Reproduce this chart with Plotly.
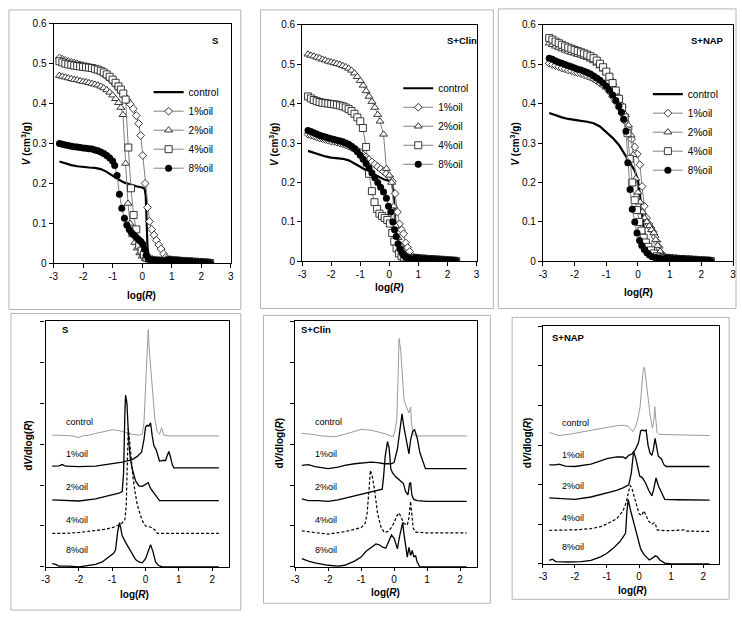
import plotly.graph_objects as go

W, H = 742, 623
FONT = "Liberation Sans, Arial, sans-serif"

# ---------------- data: cumulative intrusion volume V (cm3/g) vs log(R) ----------------
TAIL_X = [0.9, 1.0, 1.1, 1.2, 1.3, 1.4, 1.5, 1.6, 1.7, 1.8, 1.9, 2.0, 2.1, 2.2, 2.3]
TAIL_V = [0.009, 0.008, 0.007, 0.007, 0.006, 0.006, 0.005, 0.005, 0.004, 0.004, 0.003, 0.003, 0.002, 0.002, 0.001]

# panel S
S_ctrl = [(-2.8, .255), (-2.6, .25), (-2.4, .246), (-2.2, .243), (-2.0, .241), (-1.8, .24), (-1.6, .239),
          (-1.4, .236), (-1.2, .229), (-1.0, .219), (-0.8, .21), (-0.6, .202), (-0.4, .197), (-0.2, .193),
          (0.0, .19), (0.08, .187), (0.12, .17), (0.15, .1), (0.18, .04), (0.22, .018), (0.3, .012),
          (0.5, .009), (0.8, .007), (1.2, .005), (1.6, .004), (2.0, .003), (2.3, .002)]
S_1 = [(-2.8, .514), (-2.7, .511), (-2.6, .508), (-2.5, .505), (-2.4, .503), (-2.3, .501), (-2.2, .499),
       (-2.1, .497), (-2.0, .495), (-1.9, .493), (-1.8, .491), (-1.7, .489), (-1.6, .486), (-1.5, .483),
       (-1.4, .479), (-1.3, .474), (-1.2, .468), (-1.1, .462), (-1.0, .455), (-0.9, .447), (-0.8, .438),
       (-0.7, .428), (-0.6, .418), (-0.5, .408), (-0.4, .398), (-0.3, .387), (-0.2, .37), (-0.12, .35),
       (-0.05, .32), (0.02, .27), (0.1, .2), (0.18, .14), (0.25, .105), (0.32, .085), (0.4, .071),
       (0.48, .058), (0.56, .046), (0.64, .036), (0.72, .024), (0.8, .015)]
S_2 = [(-2.8, .47), (-2.7, .468), (-2.6, .466), (-2.5, .464), (-2.4, .462), (-2.3, .46), (-2.2, .459),
       (-2.1, .457), (-2.0, .455), (-1.9, .454), (-1.8, .452), (-1.7, .45), (-1.6, .448), (-1.5, .446),
       (-1.4, .443), (-1.3, .439), (-1.2, .434), (-1.1, .428), (-1.0, .421), (-0.9, .412), (-0.8, .402),
       (-0.72, .39), (-0.65, .372), (-0.56, .25), (-0.48, .15), (-0.41, .1), (-0.33, .072), (-0.25, .052),
       (-0.17, .038), (-0.08, .026), (0.0, .018), (0.1, .012), (0.2, .009), (0.3, .008), (0.4, .007),
       (0.5, .007), (0.6, .006), (0.7, .006), (0.8, .006)]
S_4 = [(-2.8, .506), (-2.7, .503), (-2.6, .5), (-2.5, .498), (-2.4, .497), (-2.3, .495), (-2.2, .494),
       (-2.1, .493), (-2.0, .492), (-1.9, .491), (-1.8, .49), (-1.7, .489), (-1.6, .487), (-1.5, .485),
       (-1.4, .482), (-1.3, .478), (-1.2, .473), (-1.1, .467), (-1.0, .46), (-0.9, .452), (-0.8, .443),
       (-0.72, .435), (-0.64, .425), (-0.56, .41), (-0.47, .29), (-0.38, .188), (-0.29, .121), (-0.2, .085),
       (-0.1, .045), (-0.02, .032), (0.06, .022), (0.15, .014), (0.25, .01), (0.35, .008), (0.45, .007),
       (0.55, .007), (0.65, .006), (0.75, .006), (0.85, .006)]
S_8 = [(-2.8, .3), (-2.7, .298), (-2.6, .296), (-2.5, .295), (-2.4, .293), (-2.3, .292), (-2.2, .291),
       (-2.1, .29), (-2.0, .289), (-1.9, .288), (-1.8, .287), (-1.7, .286), (-1.6, .284), (-1.5, .282),
       (-1.4, .279), (-1.3, .275), (-1.2, .27), (-1.1, .264), (-1.0, .256), (-0.93, .245), (-0.85, .22),
       (-0.77, .173), (-0.69, .138), (-0.6, .113), (-0.52, .096), (-0.44, .085), (-0.37, .078), (-0.3, .072),
       (-0.23, .067), (-0.16, .062), (-0.1, .058), (-0.04, .054), (0.02, .048), (0.08, .035), (0.14, .02),
       (0.2, .012), (0.28, .009), (0.36, .008), (0.45, .007), (0.55, .007), (0.65, .006), (0.75, .006),
       (0.85, .006)]

# panel S+Clin
C_ctrl = [(-2.8, .28), (-2.6, .275), (-2.4, .27), (-2.2, .266), (-2.0, .263), (-1.8, .262), (-1.6, .26),
          (-1.4, .256), (-1.2, .249), (-1.0, .24), (-0.8, .231), (-0.6, .223), (-0.4, .215), (-0.2, .208),
          (0.0, .204), (0.1, .201), (0.15, .17), (0.2, .1), (0.25, .04), (0.3, .016), (0.4, .01), (0.6, .007),
          (1.0, .005), (1.5, .004), (2.0, .003), (2.3, .002)]
C_1 = [(-2.8, .322), (-2.7, .32), (-2.6, .318), (-2.5, .315), (-2.4, .313), (-2.3, .311), (-2.2, .309),
       (-2.1, .307), (-2.0, .305), (-1.9, .304), (-1.8, .302), (-1.7, .3), (-1.6, .298), (-1.5, .295),
       (-1.4, .292), (-1.3, .289), (-1.2, .285), (-1.1, .281), (-1.0, .276), (-0.9, .27), (-0.8, .265),
       (-0.7, .258), (-0.6, .252), (-0.5, .246), (-0.4, .24), (-0.3, .234), (-0.2, .228), (-0.1, .222),
       (0.0, .215), (0.1, .203), (0.2, .172), (0.28, .125), (0.35, .095), (0.42, .08), (0.49, .07),
       (0.56, .047), (0.63, .035), (0.7, .025), (0.8, .013)]
C_2 = [(-2.8, .525), (-2.7, .522), (-2.6, .52), (-2.5, .517), (-2.4, .515), (-2.3, .512), (-2.2, .51),
       (-2.1, .507), (-2.0, .505), (-1.9, .503), (-1.8, .501), (-1.7, .499), (-1.6, .496), (-1.5, .493),
       (-1.4, .489), (-1.3, .484), (-1.2, .477), (-1.1, .468), (-1.0, .458), (-0.9, .446), (-0.8, .432),
       (-0.7, .418), (-0.6, .405), (-0.5, .39), (-0.4, .372), (-0.32, .355), (-0.2, .322), (-0.1, .235),
       (0.0, .218), (0.08, .2), (0.15, .14), (0.22, .09), (0.3, .06), (0.38, .04), (0.47, .025),
       (0.56, .016), (0.65, .011), (0.75, .009), (0.85, .008)]
C_4 = [(-2.8, .418), (-2.7, .413), (-2.6, .409), (-2.5, .406), (-2.4, .404), (-2.3, .402), (-2.2, .401),
       (-2.1, .4), (-2.0, .399), (-1.9, .398), (-1.8, .397), (-1.7, .395), (-1.6, .393), (-1.5, .39),
       (-1.4, .386), (-1.3, .381), (-1.2, .374), (-1.1, .365), (-1.0, .355), (-0.91, .338), (-0.8, .29),
       (-0.7, .222), (-0.6, .178), (-0.51, .15), (-0.42, .133), (-0.34, .121), (-0.25, .115), (-0.16, .11),
       (-0.07, .105), (0.02, .096), (0.1, .072), (0.17, .05), (0.25, .033), (0.33, .02), (0.42, .013),
       (0.5, .01), (0.6, .009), (0.7, .008), (0.8, .008)]
C_8 = [(-2.8, .332), (-2.7, .329), (-2.6, .326), (-2.5, .323), (-2.4, .32), (-2.3, .317), (-2.2, .315),
       (-2.1, .313), (-2.0, .311), (-1.9, .309), (-1.8, .307), (-1.7, .305), (-1.6, .303), (-1.5, .3),
       (-1.4, .297), (-1.3, .292), (-1.2, .286), (-1.1, .278), (-1.0, .269), (-0.9, .259), (-0.8, .248),
       (-0.7, .236), (-0.6, .224), (-0.5, .212), (-0.4, .2), (-0.3, .188), (-0.2, .176), (-0.1, .16),
       (-0.03, .14), (0.05, .125), (0.12, .1), (0.18, .08), (0.24, .063), (0.3, .045), (0.36, .032),
       (0.43, .022), (0.5, .015), (0.58, .01), (0.66, .008), (0.75, .007), (0.85, .006)]

# panel S+NAP
N_ctrl = [(-2.8, .376), (-2.6, .37), (-2.4, .365), (-2.2, .361), (-2.0, .358), (-1.8, .356), (-1.6, .354),
          (-1.4, .35), (-1.2, .342), (-1.0, .328), (-0.8, .313), (-0.6, .295), (-0.4, .27), (-0.3, .258),
          (-0.2, .245), (-0.1, .23), (0.0, .205), (0.05, .18), (0.1, .145), (0.15, .105), (0.2, .072),
          (0.27, .045), (0.35, .027), (0.45, .016), (0.6, .01), (0.8, .007), (1.0, .006), (1.5, .004),
          (2.0, .003), (2.3, .002)]
N_1 = [(-2.8, .502), (-2.7, .499), (-2.6, .496), (-2.5, .493), (-2.4, .49), (-2.3, .488), (-2.2, .485),
       (-2.1, .483), (-2.0, .48), (-1.9, .478), (-1.8, .476), (-1.7, .473), (-1.6, .47), (-1.5, .467),
       (-1.4, .463), (-1.3, .458), (-1.2, .452), (-1.1, .446), (-1.0, .44), (-0.9, .43), (-0.8, .418),
       (-0.7, .405), (-0.6, .39), (-0.5, .375), (-0.4, .355), (-0.3, .335), (-0.2, .31), (-0.1, .29),
       (-0.02, .272), (0.06, .245), (0.13, .19), (0.2, .14), (0.27, .11), (0.34, .095), (0.41, .085),
       (0.48, .075), (0.54, .062), (0.6, .05), (0.67, .035), (0.74, .02), (0.82, .013)]
N_2 = [(-2.8, .553), (-2.7, .549), (-2.6, .545), (-2.5, .542), (-2.4, .538), (-2.3, .535), (-2.2, .532),
       (-2.1, .529), (-2.0, .527), (-1.9, .524), (-1.8, .522), (-1.7, .519), (-1.6, .516), (-1.5, .512),
       (-1.4, .508), (-1.3, .502), (-1.2, .495), (-1.1, .487), (-1.0, .478), (-0.9, .467), (-0.8, .453),
       (-0.7, .436), (-0.6, .417), (-0.5, .396), (-0.4, .372), (-0.3, .345), (-0.22, .32), (-0.15, .27),
       (-0.07, .21), (0.0, .175), (0.07, .15), (0.14, .125), (0.21, .11), (0.28, .1), (0.36, .09),
       (0.43, .08), (0.5, .072), (0.56, .055), (0.62, .04), (0.7, .025), (0.78, .014), (0.86, .01)]
N_4 = [(-2.8, .566), (-2.7, .562), (-2.6, .557), (-2.5, .553), (-2.4, .549), (-2.3, .545), (-2.2, .542),
       (-2.1, .539), (-2.0, .536), (-1.9, .533), (-1.8, .53), (-1.7, .527), (-1.6, .524), (-1.5, .52),
       (-1.4, .515), (-1.3, .509), (-1.2, .501), (-1.1, .492), (-1.0, .481), (-0.9, .468), (-0.8, .452),
       (-0.7, .433), (-0.6, .412), (-0.5, .39), (-0.42, .365), (-0.33, .325), (-0.26, .26), (-0.18, .2),
       (-0.1, .155), (-0.03, .13), (0.04, .1), (0.11, .078), (0.18, .06), (0.25, .048), (0.33, .037),
       (0.41, .028), (0.5, .02), (0.6, .013), (0.7, .01), (0.8, .008)]
N_8 = [(-2.8, .515), (-2.7, .512), (-2.6, .508), (-2.5, .505), (-2.4, .502), (-2.3, .499), (-2.2, .496),
       (-2.1, .493), (-2.0, .49), (-1.9, .487), (-1.8, .485), (-1.7, .482), (-1.6, .479), (-1.5, .475),
       (-1.4, .47), (-1.3, .465), (-1.2, .459), (-1.1, .452), (-1.0, .444), (-0.9, .434), (-0.8, .422),
       (-0.7, .408), (-0.6, .393), (-0.52, .378), (-0.45, .36), (-0.38, .33), (-0.32, .25), (-0.25, .182),
       (-0.18, .132), (-0.1, .1), (-0.03, .072), (0.05, .053), (0.12, .04), (0.2, .03), (0.28, .022),
       (0.36, .016), (0.45, .012), (0.55, .01), (0.65, .008), (0.75, .007), (0.85, .006)]

# ---------------- data: stacked dV/dlog(R) curves (offset units) ----------------
BS_ctrl = [(-2.8, 3.22), (-2.6, 3.22), (-2.4, 3.21), (-2.2, 3.2), (-2.0, 3.16), (-1.9, 3.2), (-1.7, 3.22),
           (-1.5, 3.26), (-1.2, 3.32), (-1.0, 3.35), (-0.8, 3.33), (-0.6, 3.28), (-0.4, 3.24), (-0.2, 3.22),
           (-0.1, 3.24), (-0.05, 3.5), (0.0, 4.4), (0.05, 5.4), (0.08, 5.8), (0.12, 5.2), (0.2, 4.3),
           (0.28, 3.6), (0.35, 3.3), (0.42, 3.24), (0.48, 3.4), (0.55, 3.22), (0.7, 3.2), (1.0, 3.2),
           (1.5, 3.2), (2.2, 3.2)]
BS_1 = [(-2.8, 2.46), (-2.6, 2.47), (-2.5, 2.5), (-2.4, 2.46), (-2.0, 2.45), (-1.5, 2.46), (-1.2, 2.5),
        (-1.0, 2.52), (-0.7, 2.56), (-0.4, 2.62), (-0.25, 2.7), (-0.12, 2.8), (-0.05, 3.1), (0.0, 3.42),
        (0.05, 3.46), (0.1, 3.44), (0.15, 3.52), (0.2, 3.2), (0.25, 2.96), (0.32, 2.86), (0.38, 2.7),
        (0.42, 2.58), (0.5, 2.6), (0.6, 2.6), (0.65, 2.72), (0.7, 2.82), (0.75, 2.68), (0.8, 2.5),
        (0.85, 2.42), (1.0, 2.42), (1.5, 2.42), (2.2, 2.42)]
BS_2 = [(-2.8, 1.64), (-2.4, 1.62), (-2.0, 1.61), (-1.5, 1.66), (-1.2, 1.72), (-1.0, 1.76), (-0.8, 1.8),
        (-0.7, 1.84), (-0.66, 2.3), (-0.62, 3.8), (-0.6, 4.2), (-0.56, 4.0), (-0.5, 3.0), (-0.45, 2.6),
        (-0.4, 2.4), (-0.3, 2.1), (-0.2, 1.98), (-0.1, 1.97), (0.0, 2.02), (0.08, 2.06), (0.15, 1.92),
        (0.25, 1.8), (0.35, 1.68), (0.42, 1.62), (0.6, 1.62), (1.0, 1.62), (2.2, 1.62)]
BS_4 = [(-2.8, 0.82), (-2.4, 0.82), (-2.0, 0.84), (-1.5, 0.88), (-1.2, 0.92), (-1.0, 0.96), (-0.8, 1.02),
        (-0.7, 1.08), (-0.62, 1.15), (-0.58, 1.5), (-0.55, 2.6), (-0.52, 3.38), (-0.48, 3.1), (-0.44, 2.7),
        (-0.38, 2.2), (-0.32, 1.85), (-0.25, 1.52), (-0.15, 1.25), (-0.08, 1.1), (0.0, 1.0), (0.1, 0.98),
        (0.2, 0.96), (0.28, 0.9), (0.35, 0.82), (0.6, 0.82), (1.0, 0.82), (2.2, 0.82)]
BS_8 = [(-2.8, 0.08), (-2.7, 0.06), (-2.6, 0.02), (-2.3, 0.02), (-2.0, 0.0), (-1.8, 0.02), (-1.5, 0.06),
        (-1.3, 0.12), (-1.1, 0.24), (-0.95, 0.34), (-0.9, 0.42), (-0.84, 0.85), (-0.78, 1.08), (-0.74, 0.9),
        (-0.7, 0.76), (-0.6, 0.6), (-0.5, 0.46), (-0.4, 0.3), (-0.3, 0.18), (-0.2, 0.12), (-0.1, 0.1),
        (0.0, 0.2), (0.08, 0.4), (0.15, 0.54), (0.22, 0.38), (0.3, 0.12), (0.38, 0.04), (0.5, 0.0),
        (1.0, 0.0), (2.2, 0.0)]

BC_ctrl = [(-2.8, 3.26), (-2.5, 3.24), (-2.2, 3.2), (-1.8, 3.18), (-1.5, 3.24), (-1.2, 3.32), (-1.0, 3.36),
           (-0.7, 3.34), (-0.5, 3.3), (-0.3, 3.26), (-0.1, 3.2), (-0.03, 3.18), (0.02, 3.3), (0.08, 3.6),
           (0.12, 4.6), (0.15, 5.58), (0.2, 5.3), (0.25, 4.6), (0.3, 4.08), (0.35, 3.96), (0.4, 3.86),
           (0.45, 3.76), (0.5, 3.9), (0.53, 3.5), (0.58, 3.24), (0.65, 3.2), (1.0, 3.2), (1.5, 3.2), (2.2, 3.2)]
BC_1 = [(-2.8, 2.48), (-2.6, 2.5), (-2.4, 2.45), (-2.0, 2.4), (-1.7, 2.44), (-1.5, 2.48), (-1.2, 2.52),
        (-1.0, 2.54), (-0.7, 2.56), (-0.5, 2.55), (-0.3, 2.52), (-0.1, 2.52), (0.0, 2.55), (0.1, 2.88),
        (0.18, 3.4), (0.24, 3.74), (0.3, 3.4), (0.38, 3.0), (0.45, 2.76), (0.5, 3.1), (0.56, 3.3),
        (0.62, 3.36), (0.7, 3.15), (0.78, 2.8), (0.86, 2.62), (0.95, 2.4), (1.2, 2.4), (1.6, 2.4), (2.2, 2.4)]
BC_2 = [(-2.8, 1.66), (-2.6, 1.62), (-2.3, 1.62), (-2.0, 1.6), (-1.7, 1.64), (-1.5, 1.68), (-1.2, 1.73),
        (-1.0, 1.78), (-0.7, 1.83), (-0.5, 1.88), (-0.36, 1.9), (-0.32, 2.2), (-0.27, 2.7), (-0.2, 3.06),
        (-0.15, 2.9), (-0.1, 2.4), (-0.05, 2.3), (0.05, 2.2), (0.15, 2.12), (0.22, 2.08), (0.28, 2.04),
        (0.35, 1.84), (0.42, 1.76), (0.47, 2.04), (0.5, 2.06), (0.54, 1.75), (0.6, 1.65), (0.7, 1.62),
        (1.0, 1.6), (1.5, 1.6), (2.2, 1.6)]
BC_4 = [(-2.8, 0.88), (-2.6, 0.86), (-2.4, 0.84), (-2.0, 0.8), (-1.5, 0.86), (-1.2, 0.92), (-1.0, 0.96),
        (-0.88, 1.06), (-0.82, 1.3), (-0.76, 1.9), (-0.72, 2.36), (-0.66, 2.2), (-0.6, 1.92), (-0.5, 1.3),
        (-0.4, 0.98), (-0.3, 0.84), (-0.2, 0.86), (-0.1, 0.94), (0.0, 1.08), (0.08, 1.24), (0.15, 1.32),
        (0.22, 1.2), (0.3, 1.06), (0.4, 1.02), (0.45, 1.2), (0.5, 1.6), (0.53, 1.3), (0.58, 0.95),
        (0.65, 0.85), (0.75, 0.84), (1.0, 0.83), (1.5, 0.83), (2.2, 0.83)]
BC_8 = [(-2.8, 0.2), (-2.6, 0.14), (-2.4, 0.1), (-2.0, 0.04), (-1.7, 0.02), (-1.5, 0.04), (-1.2, 0.14),
        (-1.0, 0.24), (-0.85, 0.38), (-0.75, 0.44), (-0.65, 0.48), (-0.55, 0.56), (-0.45, 0.54),
        (-0.35, 0.48), (-0.25, 0.46), (-0.15, 0.66), (-0.08, 0.78), (0.0, 0.7), (0.06, 0.52), (0.1, 0.44),
        (0.16, 0.72), (0.22, 0.98), (0.26, 1.08), (0.3, 0.8), (0.35, 0.45), (0.4, 0.24), (0.45, 0.48),
        (0.5, 0.28), (0.55, 0.4), (0.6, 0.24), (0.65, 0.28), (0.7, 0.12), (0.78, 0.0), (1.0, 0.0),
        (1.5, 0.0), (2.2, 0.0)]

BN_ctrl = [(-2.8, 3.32), (-2.6, 3.26), (-2.5, 3.24), (-2.2, 3.27), (-2.0, 3.3), (-1.5, 3.36), (-1.0, 3.45),
           (-0.7, 3.49), (-0.5, 3.5), (-0.35, 3.48), (-0.25, 3.4), (-0.2, 3.34), (-0.12, 3.44), (-0.05, 3.62),
           (0.03, 3.95), (0.08, 4.4), (0.13, 4.9), (0.17, 4.97), (0.22, 4.6), (0.28, 4.15), (0.35, 3.73),
           (0.42, 3.42), (0.46, 3.6), (0.49, 3.97), (0.52, 3.6), (0.56, 3.32), (0.62, 3.27), (1.0, 3.26),
           (1.5, 3.25), (2.2, 3.24)]
BN_1 = [(-2.8, 2.5), (-2.6, 2.5), (-2.5, 2.52), (-2.3, 2.47), (-2.0, 2.46), (-1.5, 2.52), (-1.2, 2.6),
        (-1.0, 2.66), (-0.7, 2.7), (-0.5, 2.7), (-0.42, 2.66), (-0.32, 2.74), (-0.22, 2.78), (-0.12, 2.88),
        (-0.02, 3.05), (0.05, 3.36), (0.1, 3.38), (0.16, 3.36), (0.22, 3.38), (0.28, 3.0), (0.34, 2.8),
        (0.4, 2.74), (0.45, 2.9), (0.5, 3.17), (0.55, 2.95), (0.6, 2.72), (0.7, 2.65), (0.78, 2.5),
        (0.85, 2.46), (1.2, 2.46), (1.6, 2.46), (2.2, 2.46)]
BN_2 = [(-2.8, 1.67), (-2.6, 1.66), (-2.4, 1.64), (-2.0, 1.63), (-1.5, 1.69), (-1.2, 1.75), (-1.0, 1.8),
        (-0.7, 1.86), (-0.5, 1.92), (-0.32, 2.0), (-0.24, 2.3), (-0.17, 2.84), (-0.1, 2.66), (-0.04, 2.4),
        (0.02, 2.22), (0.1, 2.18), (0.2, 2.05), (0.3, 1.86), (0.4, 1.72), (0.45, 1.86), (0.53, 2.17),
        (0.6, 1.98), (0.7, 1.78), (0.8, 1.63), (1.2, 1.62), (1.6, 1.61), (2.2, 1.61)]
BN_4 = [(-2.8, 0.85), (-2.5, 0.85), (-2.0, 0.86), (-1.5, 0.89), (-1.2, 0.94), (-1.0, 1.01), (-0.7, 1.14),
        (-0.5, 1.34), (-0.4, 1.55), (-0.32, 1.85), (-0.27, 1.98), (-0.22, 1.9), (-0.15, 1.68), (-0.08, 1.45),
        (0.0, 1.27), (0.08, 1.22), (0.15, 1.34), (0.22, 1.22), (0.3, 1.08), (0.4, 1.0), (0.47, 1.04),
        (0.52, 0.98), (0.56, 0.86), (0.8, 0.84), (1.0, 0.84), (1.4, 0.86), (1.5, 0.83), (2.2, 0.82)]
BN_8 = [(-2.8, 0.09), (-2.7, 0.12), (-2.6, 0.06), (-2.2, 0.05), (-1.8, 0.06), (-1.5, 0.09), (-1.2, 0.18),
        (-1.0, 0.27), (-0.8, 0.4), (-0.6, 0.56), (-0.48, 0.7), (-0.42, 0.78), (-0.38, 1.3), (-0.34, 1.63),
        (-0.28, 1.4), (-0.2, 1.15), (-0.12, 0.88), (-0.05, 0.62), (0.05, 0.38), (0.15, 0.24), (0.25, 0.14),
        (0.32, 0.1), (0.4, 0.14), (0.5, 0.2), (0.56, 0.19), (0.65, 0.1), (0.8, 0.02), (1.0, 0.0),
        (1.5, 0.0), (2.2, 0.0)]

SERIES = ["control", "1%oil", "2%oil", "4%oil", "8%oil"]
PANELS = ["S", "S+Clin", "S+NAP"]
X_TICKS_TOP = [-3, -2, -1, 0, 1, 2, 3]
X_TICKS_BOT = [-3, -2, -1, 0, 1, 2]
TICK_TEXT_TOP = ["-3", "-2", "-1", "0", "1", "2", "3"]
TICK_TEXT_BOT = ["-3", "-2", "-1", "0", "1", "2"]

TOP = [(S_ctrl, S_1, S_2, S_4, S_8), (C_ctrl, C_1, C_2, C_4, C_8), (N_ctrl, N_1, N_2, N_4, N_8)]
BOT = [(BS_ctrl, BS_1, BS_2, BS_4, BS_8), (BC_ctrl, BC_1, BC_2, BC_4, BC_8), (BN_ctrl, BN_1, BN_2, BN_4, BN_8)]

# ---------------- layout geometry (pixels) ----------------
TOP_BOX = [(50, 229, 19, 263), (301, 477, 20, 261), (544, 736, 20, 261)]
BOT_BOX = [(42, 227, 322, 572), (294, 477, 322, 572), (544, 722, 327, 569)]
FRAMES = [(5, 5, 239, 310), (259, 5, 494, 309), (499, 4, 739, 309),
          (7, 314, 239, 616), (262, 316, 491, 609), (513, 318, 732, 605)]
LEG_POS = [(146, 74), (398, 70), (650, 76)]


def px_x(a, b):
    return [a / W, b / W]


def px_y(t, b):
    return [1 - b / H, 1 - t / H]


def unz(pairs, tail=False):
    xs = [p[0] for p in pairs]
    ys = [p[1] for p in pairs]
    if tail:
        xs = xs + TAIL_X
        ys = ys + TAIL_V
    return xs, ys


fig = go.Figure()
MARK = [None,
        dict(symbol="diamond", size=6, color="white", line=dict(color="#222", width=0.9)),
        dict(symbol="triangle-up", size=7, color="white", line=dict(color="#222", width=0.9)),
        dict(symbol="square", size=7, color="white", line=dict(color="#222", width=0.9)),
        dict(symbol="circle", size=7, color="black", line=dict(color="black", width=0))]

for p in range(3):
    xa = "x" if p == 0 else f"x{p + 1}"
    ya = "y" if p == 0 else f"y{p + 1}"
    leg = "legend" if p == 0 else f"legend{p + 1}"
    for s in range(5):
        if s == 0:
            xs, ys = unz(TOP[p][s])
            fig.add_trace(go.Scatter(x=xs, y=ys, mode="lines", name=SERIES[s], xaxis=xa, yaxis=ya,
                                     legend=leg, line=dict(color="black", width=2.2)))
        else:
            xs, ys = unz(TOP[p][s], tail=True)
            fig.add_trace(go.Scatter(x=xs, y=ys, mode="lines+markers", name=SERIES[s], xaxis=xa, yaxis=ya,
                                     legend=leg, line=dict(color="#808080", width=1), marker=MARK[s]))

for p in range(3):
    xa = f"x{p + 4}"
    ya = f"y{p + 4}"
    for s in range(5):
        xs, ys = unz(BOT[p][s])
        if s == 0:
            ln = dict(color="#9a9a9a", width=1)
        elif s == 3:
            ln = dict(color="black", width=1.2, dash="3px,2px")
        else:
            ln = dict(color="black", width=1.3)
        fig.add_trace(go.Scatter(x=xs, y=ys, mode="lines", name=SERIES[s], xaxis=xa, yaxis=ya,
                                 showlegend=False, line=ln))

tickfont = dict(family=FONT, size=10, color="black")
layout = dict(width=W, height=H, margin=dict(l=0, r=0, t=0, b=0), paper_bgcolor="white",
              plot_bgcolor="white", font=dict(family=FONT, color="black"), showlegend=True)

for p in range(3):
    x0, x1, y0, y1 = TOP_BOX[p]
    xk = "xaxis" if p == 0 else f"xaxis{p + 1}"
    yk = "yaxis" if p == 0 else f"yaxis{p + 1}"
    anchor_x = "y" if p == 0 else f"y{p + 1}"
    anchor_y = "x" if p == 0 else f"x{p + 1}"
    layout[xk] = dict(domain=px_x(x0, x1), anchor=anchor_x, range=[-3, 3], tickvals=X_TICKS_TOP,
                      ticktext=TICK_TEXT_TOP, ticks="outside", ticklen=4, tickcolor="black",
                      showline=True, linecolor="black", linewidth=1, mirror=True, showgrid=False,
                      zeroline=False, tickfont=tickfont)
    layout[yk] = dict(domain=px_y(y0, y1), anchor=anchor_y, range=[0, 0.6], dtick=0.1, tick0=0,
                      ticks="outside", ticklen=4, tickcolor="black", showline=True, linecolor="black",
                      linewidth=1, mirror=True, showgrid=False, zeroline=False, tickfont=tickfont)
    lk = "legend" if p == 0 else f"legend{p + 1}"
    lx, ly = LEG_POS[p]
    layout[lk] = dict(x=lx / W, y=1 - ly / H, xanchor="left", yanchor="top", bgcolor="rgba(0,0,0,0)",
                      font=dict(family=FONT, size=10, color="black"), borderwidth=0, itemwidth=30)

for p in range(3):
    x0, x1, y0, y1 = BOT_BOX[p]
    xk = f"xaxis{p + 4}"
    yk = f"yaxis{p + 4}"
    layout[xk] = dict(domain=px_x(x0, x1), anchor=f"y{p + 4}", range=[-3, 2.5], tickvals=X_TICKS_BOT,
                      ticktext=TICK_TEXT_BOT, ticks="outside", ticklen=3, tickcolor="black",
                      showline=True, linecolor="black", linewidth=1.3, mirror=True, showgrid=False,
                      zeroline=False, tickfont=tickfont)
    layout[yk] = dict(domain=px_y(y0, y1), anchor=f"x{p + 4}", range=[0, 6], dtick=1, tick0=0,
                      ticks="outside", ticklen=4, tickcolor="black", showticklabels=False,
                      showline=True, linecolor="black", linewidth=1.3, mirror=True, showgrid=False,
                      zeroline=False)

shapes = []
for (a, b, c, d) in FRAMES:
    shapes.append(dict(type="rect", xref="paper", yref="paper", x0=a / W, x1=c / W, y0=1 - d / H, y1=1 - b / H,
                       line=dict(color="#b4b4b4", width=1), fillcolor="rgba(0,0,0,0)", layer="below"))
layout["shapes"] = shapes

ann = []


def text(x, y, t, size=10, angle=0, xanchor="center"):
    ann.append(dict(x=x / W, y=1 - y / H, xref="paper", yref="paper", text=t, showarrow=False,
                    font=dict(family=FONT, size=size, color="black"), textangle=angle,
                    xanchor=xanchor, yanchor="middle"))


VTITLE = "<b><i>V</i> (cm<sup>3</sup>/g)</b>"
XTITLE = "<b>log(<i>R</i>)</b>"
DTITLE = "<b>d<i>V</i>/dlog(<i>R</i>)</b>"
for (x, y) in [(22, 141), (273, 142), (516, 142)]:
    text(x, y, VTITLE, 10, -90)
for (x, y) in [(139, 296), (389, 288), (641, 293)]:
    text(x, y, XTITLE, 10)
for (x, y) in [(132, 600), (385, 598), (634, 596)]:
    text(x, y, XTITLE, 10)
for (x, y) in [(24, 448), (278, 446), (528, 446)]:
    text(x, y, DTITLE, 10, -90)
for (x, y, t) in [(213, 36, "S"), (462, 36, "S+Clin"), (710, 36, "S+NAP"),
                  (62, 330, "S"), (315, 330, "S+Clin"), (570, 338, "S+NAP")]:
    text(x, y, "<b>" + t + "</b>", 9.5)

LABEL_Y = [3.55, 2.75, 1.96, 1.15, 0.42]
for p in range(3):
    for s in range(5):
        ann.append(dict(x=-2.45, y=LABEL_Y[s], xref=f"x{p + 4}", yref=f"y{p + 4}", text=SERIES[s],
                        showarrow=False, xanchor="left", yanchor="middle",
                        font=dict(family=FONT, size=9, color="black")))
layout["annotations"] = ann

fig.update_layout(**layout)
fig.write_html("out.html", config={"displayModeBar": False},
               post_script="document.body.style.margin='0';document.body.style.overflow='hidden';")
